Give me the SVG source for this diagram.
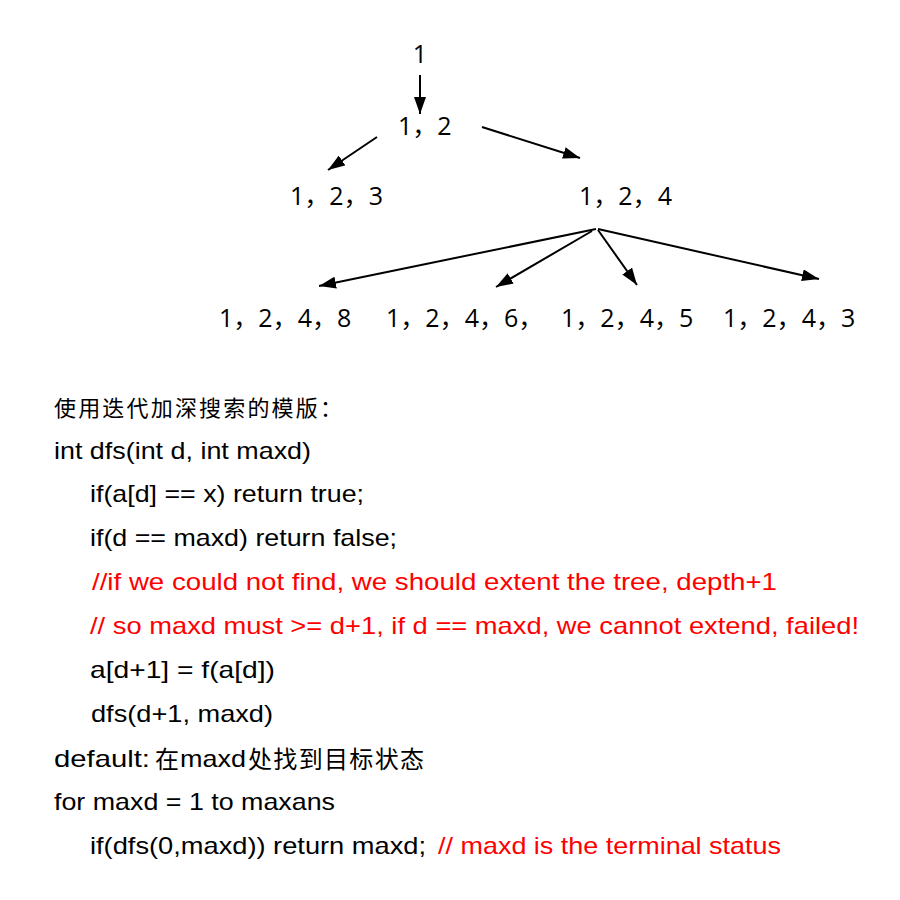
<svg xmlns="http://www.w3.org/2000/svg" width="900" height="900" viewBox="0 0 900 900">
<style>
.tx{font-family:"Liberation Sans","Noto Sans CJK SC",sans-serif;fill:#000}
.t{font-family:"Open Sans",sans-serif;font-size:25px;fill:#000}
.k{font-family:"Noto Sans CJK SC",sans-serif}
.c{font-size:24px}
.z{font-size:22px}
.y{font-size:24px}
.r{fill:#ff0000}
.e{stroke:#000;stroke-width:2;fill:none;marker-end:url(#ah)}
</style>
<defs>
<marker id="ah" markerUnits="userSpaceOnUse" markerWidth="18" markerHeight="12" refX="17" refY="6" orient="auto">
<path d="M0,0 L17,6 L0,12 z" fill="#000"/>
</marker>
</defs>
<rect width="900" height="900" fill="#fff"/>
<g id="connectors">
<line class="e" x1="420" y1="75" x2="420" y2="114"/>
<line class="e" x1="377" y1="137" x2="328" y2="170"/>
<line class="e" x1="482" y1="127" x2="580" y2="158"/>
<line class="e" x1="596" y1="229" x2="319" y2="286"/>
<line class="e" x1="592" y1="231" x2="496" y2="287"/>
<line class="e" x1="598" y1="230" x2="637" y2="285"/>
<line class="e" x1="598" y1="229" x2="819" y2="279"/>
</g>
<g id="n1"><text class="t" x="420" y="63" text-anchor="middle">1</text></g>
<g id="n12"><text class="t" x="398" y="135">1<tspan class="k">，</tspan>2</text></g>
<g id="n123"><text class="t" x="290" y="205">1<tspan class="k">，</tspan>2<tspan class="k">，</tspan>3</text></g>
<g id="n124"><text class="t" x="579" y="205">1<tspan class="k">，</tspan>2<tspan class="k">，</tspan>4</text></g>
<g id="n1248"><text class="t" x="219" y="327">1<tspan class="k">，</tspan>2<tspan class="k">，</tspan>4<tspan class="k">，</tspan>8</text></g>
<g id="n1246"><text class="t" x="386" y="327">1<tspan class="k">，</tspan>2<tspan class="k">，</tspan>4<tspan class="k">，</tspan>6<tspan class="k">，</tspan></text></g>
<g id="n1245"><text class="t" x="561" y="327">1<tspan class="k">，</tspan>2<tspan class="k">，</tspan>4<tspan class="k">，</tspan>5</text></g>
<g id="n1243"><text class="t" x="723" y="327">1<tspan class="k">，</tspan>2<tspan class="k">，</tspan>4<tspan class="k">，</tspan>3</text></g>
<g id="code">
<text class="tx z" x="54" y="416" textLength="288" lengthAdjust="spacing">使用迭代加深搜索的模版：</text>
<text class="tx c" x="54" y="459" textLength="257" lengthAdjust="spacingAndGlyphs">int dfs(int d, int maxd)</text>
<text class="tx c" x="90" y="502" textLength="274" lengthAdjust="spacingAndGlyphs">if(a[d] == x) return true;</text>
<text class="tx c" x="90" y="546" textLength="307" lengthAdjust="spacingAndGlyphs">if(d == maxd) return false;</text>
<text class="tx c r" x="92" y="590" textLength="685" lengthAdjust="spacingAndGlyphs">//if we could not find, we should extent the tree, depth+1</text>
<text class="tx c r" x="90" y="634" textLength="769" lengthAdjust="spacingAndGlyphs">// so maxd must &gt;= d+1, if d == maxd, we cannot extend, failed!</text>
<text class="tx c" x="90" y="678" textLength="185" lengthAdjust="spacingAndGlyphs">a[d+1] = f(a[d])</text>
<text class="tx c" x="91" y="722" textLength="182" lengthAdjust="spacingAndGlyphs">dfs(d+1, maxd)</text>
<text class="tx c" x="54" y="767" textLength="96" lengthAdjust="spacingAndGlyphs">default:</text>
<text class="tx y" x="155" y="768">在</text>
<text class="tx c" x="180" y="767" textLength="66" lengthAdjust="spacingAndGlyphs">maxd</text>
<text class="tx y" x="248" y="768" textLength="176" lengthAdjust="spacing">处找到目标状态</text>
<text class="tx c" x="54" y="810" textLength="281" lengthAdjust="spacingAndGlyphs">for maxd = 1 to maxans</text>
<text class="tx c" x="90" y="854" textLength="336" lengthAdjust="spacingAndGlyphs">if(dfs(0,maxd)) return maxd;</text>
<text class="tx c r" x="438" y="854" textLength="343" lengthAdjust="spacingAndGlyphs">// maxd is the terminal status</text>
</g>
</svg>
